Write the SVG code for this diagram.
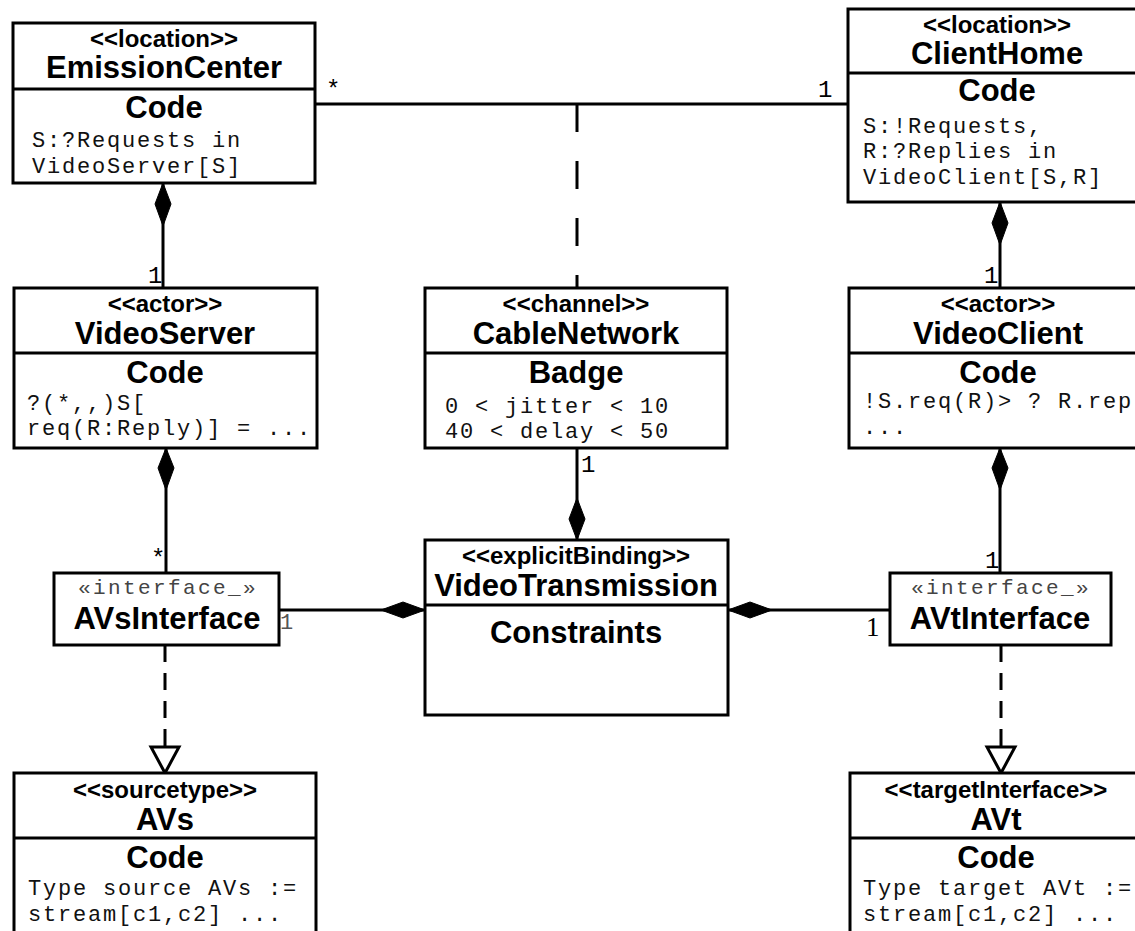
<svg xmlns="http://www.w3.org/2000/svg" width="1135" height="931" viewBox="0 0 1135 931">
<style>
.box{fill:#fff;stroke:#000;stroke-width:3}
.div{stroke:#000;stroke-width:3}
.st{font-family:"Liberation Sans",Arial,sans-serif;font-weight:bold;font-size:24px;text-anchor:middle;fill:#000}
.nm{font-family:"Liberation Sans",Arial,sans-serif;font-weight:bold;font-size:31px;text-anchor:middle;fill:#000}
.mono{font-family:"Liberation Mono","Courier New",monospace;font-size:22px;letter-spacing:1.8px;fill:#111}
.ist{font-family:"Liberation Mono","Courier New",monospace;font-size:21px;letter-spacing:2.4px;fill:#444;text-anchor:middle}
.lbl{font-family:"Liberation Mono","Courier New",monospace;font-size:24px;fill:#000}
.line{stroke:#000;stroke-width:3;fill:none}
.dash1{stroke:#000;stroke-width:3;fill:none;stroke-dasharray:28 29}
.dash2{stroke:#000;stroke-width:3;fill:none;stroke-dasharray:17 11}
.dia{fill:#000;stroke:#000;stroke-width:1}
.tri{fill:#fff;stroke:#000;stroke-width:3}
</style>

<g id="connectors">
  <line class="line" x1="315" y1="104" x2="848" y2="104"/>
  <text class="lbl" x="326" y="97">*</text>
  <text class="lbl" x="818" y="97">1</text>
  <line class="dash1" x1="577" y1="104" x2="577" y2="288"/>

  <line class="line" x1="163" y1="183" x2="163" y2="288"/>
  <polygon class="dia" points="163,183 171,204 163,226 155,204"/>
  <text class="lbl" x="148" y="283">1</text>

  <line class="line" x1="1000" y1="202" x2="1000" y2="288"/>
  <polygon class="dia" points="1000,202 1008,223 1000,245 992,223"/>
  <text class="lbl" x="984" y="283">1</text>

  <line class="line" x1="166" y1="448" x2="166" y2="573"/>
  <polygon class="dia" points="166,448 174,468 166,490 158,468"/>
  <text class="lbl" x="151" y="566">*</text>

  <line class="line" x1="1000" y1="448" x2="1000" y2="573"/>
  <polygon class="dia" points="1000,448 1008,468 1000,490 992,468"/>
  <text class="lbl" x="985" y="568">1</text>

  <line class="line" x1="577" y1="448" x2="577" y2="540"/>
  <polygon class="dia" points="577,498 585,519 577,540 569,519"/>
  <text class="lbl" x="581" y="472">1</text>

  <line class="line" x1="279" y1="610" x2="425" y2="610"/>
  <polygon class="dia" points="425,610 403,602 381,610 403,618"/>
  <text class="lbl" x="280" y="629" style="fill:#555;font-size:22px">1</text>

  <line class="line" x1="728" y1="610" x2="890" y2="610"/>
  <polygon class="dia" points="728,610 750,602 772,610 750,618"/>
  <text x="866" y="636" style="font-family:'Liberation Serif','Times New Roman',serif;font-size:27px;fill:#000">1</text>

  <line class="dash2" x1="165" y1="645" x2="165" y2="748"/>
  <polygon class="tri" points="151,747 179,747 165,773"/>
  <line class="dash2" x1="1001" y1="645" x2="1001" y2="748"/>
  <polygon class="tri" points="987,747 1015,747 1001,773"/>
</g>

<g id="EmissionCenter">
  <rect class="box" x="13" y="23" width="302" height="160"/>
  <line class="div" x1="13" y1="89" x2="315" y2="89"/>
  <text class="st" x="164" y="47">&lt;&lt;location&gt;&gt;</text>
  <text class="nm" x="164" y="78">EmissionCenter</text>
  <text class="nm" x="164" y="118">Code</text>
  <text class="mono" x="32" y="147">S:?Requests in</text>
  <text class="mono" x="32" y="173">VideoServer[S]</text>
</g>

<g id="ClientHome">
  <rect class="box" x="848" y="9" width="302" height="193"/>
  <line class="div" x1="848" y1="73" x2="1150" y2="73"/>
  <text class="st" x="997" y="33">&lt;&lt;location&gt;&gt;</text>
  <text class="nm" x="997" y="64">ClientHome</text>
  <text class="nm" x="997" y="101">Code</text>
  <text class="mono" x="863" y="133">S:!Requests,</text>
  <text class="mono" x="863" y="158">R:?Replies in</text>
  <text class="mono" x="863" y="184">VideoClient[S,R]</text>
</g>

<g id="VideoServer">
  <rect class="box" x="14" y="288" width="303" height="160"/>
  <line class="div" x1="14" y1="353" x2="317" y2="353"/>
  <text class="st" x="165" y="312">&lt;&lt;actor&gt;&gt;</text>
  <text class="nm" x="165" y="344">VideoServer</text>
  <text class="nm" x="165" y="383">Code</text>
  <text class="mono" x="27" y="410">?(*,,)S[</text>
  <text class="mono" x="27" y="435">req(R:Reply)] = ...</text>
</g>

<g id="CableNetwork">
  <rect class="box" x="425" y="288" width="302" height="160"/>
  <line class="div" x1="425" y1="353" x2="727" y2="353"/>
  <text class="st" x="576" y="312">&lt;&lt;channel&gt;&gt;</text>
  <text class="nm" x="576" y="344">CableNetwork</text>
  <text class="nm" x="576" y="383">Badge</text>
  <text class="mono" x="445" y="413">0 &lt; jitter &lt; 10</text>
  <text class="mono" x="445" y="438">40 &lt; delay &lt; 50</text>
</g>

<g id="VideoClient">
  <rect class="box" x="849" y="288" width="301" height="160"/>
  <line class="div" x1="849" y1="353" x2="1150" y2="353"/>
  <text class="st" x="998" y="312">&lt;&lt;actor&gt;&gt;</text>
  <text class="nm" x="998" y="344">VideoClient</text>
  <text class="nm" x="998" y="383">Code</text>
  <text class="mono" x="863" y="408">!S.req(R)&gt; ? R.rep</text>
  <text class="mono" x="863" y="434">...</text>
</g>

<g id="VideoTransmission">
  <rect class="box" x="425" y="540" width="303" height="175"/>
  <line class="div" x1="425" y1="605" x2="728" y2="605"/>
  <text class="st" x="576" y="564">&lt;&lt;explicitBinding&gt;&gt;</text>
  <text class="nm" x="576" y="596">VideoTransmission</text>
  <text class="nm" x="576" y="643">Constraints</text>
</g>

<g id="AVsInterface">
  <rect class="box" x="54" y="573" width="225" height="72"/>
  <text class="ist" x="168" y="594">«interface_»</text>
  <text class="nm" x="167" y="629">AVsInterface</text>
</g>

<g id="AVtInterface">
  <rect class="box" x="890" y="573" width="221" height="72"/>
  <text class="ist" x="1001" y="594">«interface_»</text>
  <text class="nm" x="1000" y="629">AVtInterface</text>
</g>

<g id="AVs">
  <rect class="box" x="14" y="773" width="302" height="180"/>
  <line class="div" x1="14" y1="838" x2="316" y2="838"/>
  <text class="st" x="165" y="798">&lt;&lt;sourcetype&gt;&gt;</text>
  <text class="nm" x="165" y="830">AVs</text>
  <text class="nm" x="165" y="868">Code</text>
  <text class="mono" x="28" y="895">Type source AVs :=</text>
  <text class="mono" x="28" y="921">stream[c1,c2] ...</text>
</g>

<g id="AVt">
  <rect class="box" x="850" y="773" width="300" height="180"/>
  <line class="div" x1="850" y1="838" x2="1150" y2="838"/>
  <text class="st" x="996" y="798">&lt;&lt;targetInterface&gt;&gt;</text>
  <text class="nm" x="996" y="830">AVt</text>
  <text class="nm" x="996" y="868">Code</text>
  <text class="mono" x="863" y="895">Type target AVt :=</text>
  <text class="mono" x="863" y="921">stream[c1,c2] ...</text>
</g>
</svg>
